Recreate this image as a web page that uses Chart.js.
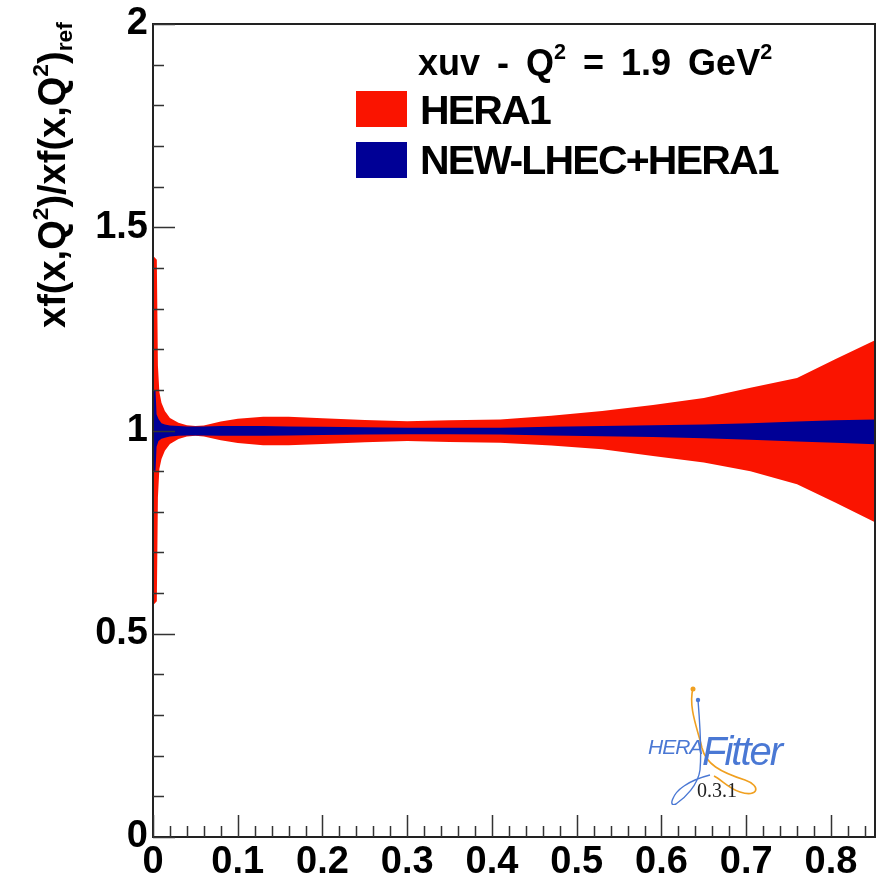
<!DOCTYPE html>
<html lang="en">
<head>
  <meta charset="UTF-8" />
  <title>xuv ratio</title>
  <script src="https://cdn.jsdelivr.net/npm/chart.js"></script>
  <style>
    *{margin:0;padding:0;box-sizing:border-box}
    body{width:883px;height:885px;background:#fff;overflow:hidden;font-family:'Liberation Sans',Arial,sans-serif}
    .wrap{position:relative;width:883px;height:885px}
    #c{position:absolute;left:0;top:0}
    .txt{position:absolute;white-space:nowrap;font-weight:bold;color:#000;line-height:1}
    .sup{position:relative;top:-0.75em;font-size:0.6em}
    .sub{position:relative;top:0.3em;font-size:0.6em}
    .box{position:absolute;width:51px;height:36px}
    #ytitle{font-size:38px;left:33px;top:328px;transform-origin:0 0;transform:rotate(-90deg)}
    #legTitle{font-size:36px;left:418px;top:45px;word-spacing:7px}
    .legTxt{font-size:41px;letter-spacing:-1.8px;left:420px}
    .logo{position:absolute;white-space:nowrap;line-height:1;font-style:italic;color:#4a78d4}
  </style>
</head>
<body>
<div class="wrap">
  <canvas id="c" width="883" height="885"></canvas>

  <div class="txt" id="ytitle">xf(x,Q<span class="sup">2</span>)/xf(x,Q<span class="sup">2</span>)<span class="sub">ref</span></div>

  <div class="txt" id="legTitle">xuv - Q<span class="sup">2</span> = 1.9 GeV<span class="sup">2</span></div>
  <div class="box" style="left:356px;top:91px;background:#fa1400"></div>
  <div class="txt legTxt" style="top:90px">HERA1</div>
  <div class="box" style="left:356px;top:142px;background:#000096"></div>
  <div class="txt legTxt" style="top:140px">NEW-LHEC+HERA1</div>

  <!-- HERAFitter logo -->
  <svg style="position:absolute;left:640px;top:680px" width="130" height="125">
    <path d="M53 8 C48 28 58 50 62 68 C66 84 80 92 105 100 C122 106 118 118 100 112 C88 108 82 100 74 96" fill="none" stroke="#f0a020" stroke-width="1.6"/>
    <path d="M58 20 C60 45 62 70 60 90 C58 105 45 118 36 124 C28 128 32 114 44 106 C54 99 62 97 70 95" fill="none" stroke="#4a78d4" stroke-width="1.4"/>
    <circle cx="53" cy="9" r="2.5" fill="#f0a020"/>
    <circle cx="58" cy="20" r="2.2" fill="#4a78d4"/>
  </svg>
  <div class="logo" style="left:648px;top:736px;font-size:21px;letter-spacing:-1px">HERA</div>
  <div class="logo" style="left:702px;top:731px;font-size:40px;letter-spacing:-2px">Fitter</div>
  <div class="logo" style="left:697px;top:780px;font-size:20px;font-style:normal;color:#222;font-family:'Liberation Serif',serif">0.3.1</div>
</div>

<script>
  // x grids and band edges
  const hera1X  = [0, 0.0045, 0.0058, 0.0075, 0.01, 0.014, 0.02, 0.03, 0.04, 0.05, 0.06, 0.08, 0.1, 0.13, 0.16, 0.2, 0.25, 0.3, 0.35, 0.41, 0.47, 0.53, 0.59, 0.65, 0.705, 0.76, 0.805, 0.852];
  const hera1Hi = [1.43, 1.42, 1.16, 1.095, 1.068, 1.048, 1.031, 1.019, 1.013, 1.011, 1.012, 1.022, 1.029, 1.034, 1.034, 1.030, 1.026, 1.023, 1.025, 1.027, 1.036, 1.048, 1.063, 1.080, 1.105, 1.129, 1.175, 1.222];
  const hera1Lo = [0.57, 0.58, 0.835, 0.905, 0.93, 0.95, 0.967, 0.979, 0.985, 0.987, 0.985, 0.976, 0.969, 0.964, 0.964, 0.967, 0.971, 0.974, 0.972, 0.970, 0.963, 0.954, 0.937, 0.921, 0.900, 0.868, 0.823, 0.774];

  const lhecX   = [0, 0.003, 0.0042, 0.0065, 0.01, 0.014, 0.02, 0.03, 0.04, 0.05, 0.06, 0.08, 0.1, 0.13, 0.16, 0.2, 0.25, 0.3, 0.35, 0.41, 0.47, 0.53, 0.59, 0.65, 0.705, 0.76, 0.805, 0.852];
  const lhecHi  = [1.097, 1.097, 1.04, 1.028, 1.018, 1.015, 1.012, 1.011, 1.010, 1.010, 1.010, 1.011, 1.011, 1.011, 1.010, 1.009, 1.008, 1.007, 1.007, 1.007, 1.009, 1.011, 1.013, 1.015, 1.018, 1.022, 1.025, 1.027];
  const lhecLo  = [0.901, 0.901, 0.96, 0.974, 0.980, 0.982, 0.985, 0.987, 0.988, 0.988, 0.988, 0.987, 0.987, 0.987, 0.988, 0.989, 0.990, 0.991, 0.991, 0.990, 0.988, 0.986, 0.984, 0.981, 0.977, 0.973, 0.970, 0.966];

  const xMin = 0, xMax = 0.852, yMin = 0, yMax = 2;
  const RED = '#fa1400', BLUE = '#000096';

  const pts = (xs, arr) => arr.map((v, i) => ({ x: xs[i], y: v }));
  const band = (xs, data, color, fill) => ({
    data: pts(xs, data), fill: fill, backgroundColor: color, borderColor: color,
    borderWidth: 0, pointRadius: 0, tension: 0
  });

  // ROOT style frame + inner tick marks
  const frameTicks = {
    id: 'frameTicks',
    afterDatasetsDraw(chart) {
      const { ctx, chartArea: a, scales: { x, y } } = chart;
      ctx.save();
      ctx.strokeStyle = '#222';
      ctx.lineWidth = 2;
      ctx.strokeRect(a.left, a.top, a.right - a.left, a.bottom - a.top);
      ctx.lineWidth = 1.5;
      ctx.strokeStyle = '#333';
      ctx.beginPath();
      for (let k = 0; k <= 20; k++) {
        const py = Math.round(y.getPixelForValue(k / 10)) + 0.5;
        const len = k % 5 === 0 ? 22 : 11;
        ctx.moveTo(a.left, py); ctx.lineTo(a.left + len, py);
      }
      for (let k = 0; k * 0.02 <= xMax + 1e-9; k++) {
        const px = Math.round(x.getPixelForValue(k * 0.02)) + 0.5;
        const len = k % 5 === 0 ? 22 : 11;
        ctx.moveTo(px, a.bottom); ctx.lineTo(px, a.bottom - len);
      }
      ctx.stroke();
      ctx.restore();
    }
  };

  const tickFont = { family: "'Liberation Sans', Arial, sans-serif", weight: 'bold', size: 38, lineHeight: 1 };

  new Chart(document.getElementById('c').getContext('2d'), {
    type: 'line',
    data: {
      datasets: [
        band(lhecX, lhecHi, BLUE, '+1'),
        band(lhecX, lhecLo, BLUE, false),
        band(hera1X, hera1Hi, RED, '+1'),
        band(hera1X, hera1Lo, RED, false)
      ]
    },
    options: {
      responsive: false,
      animation: false,
      layout: { padding: { top: 22, right: 8, left: 0, bottom: 0 } },
      plugins: { legend: { display: false }, tooltip: { enabled: false } },
      scales: {
        x: {
          type: 'linear', min: xMin, max: xMax,
          grid: { display: false, drawTicks: false },
          border: { display: false },
          ticks: { stepSize: 0.1, includeBounds: false, padding: 7, color: '#000', font: tickFont,
                   maxRotation: 0, autoSkip: false, callback: v => +v.toFixed(1) },
          afterFit: s => { s.height = 48; }
        },
        y: {
          min: yMin, max: yMax,
          grid: { display: false, drawTicks: false },
          border: { display: false },
          ticks: { stepSize: 0.5, padding: 5, color: '#000', font: tickFont, callback: v => +v.toFixed(1) },
          afterFit: s => { s.width = 153; }
        }
      }
    },
    plugins: [frameTicks]
  });
</script>
</body>
</html>
